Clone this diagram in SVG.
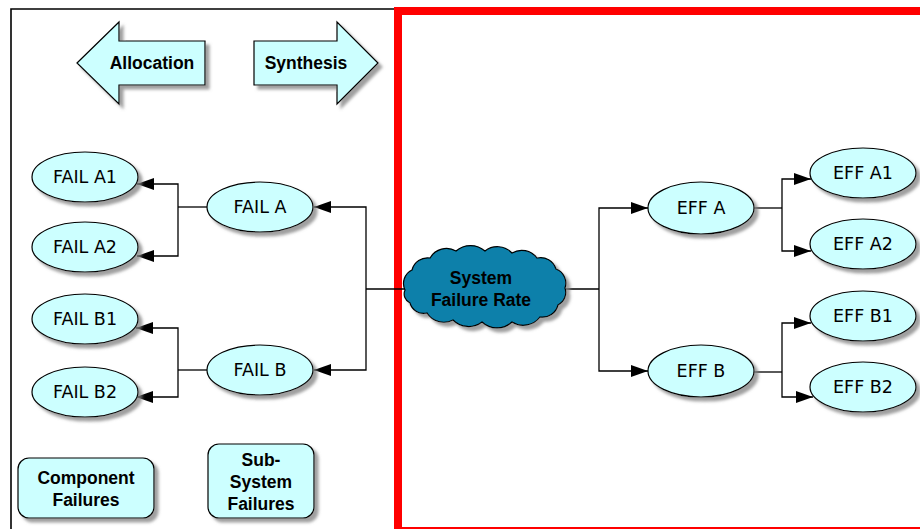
<svg xmlns="http://www.w3.org/2000/svg" width="920" height="529" viewBox="0 0 920 529">
  <style>
    .shape { fill: #CCFFFF; stroke: #000; stroke-width: 1.2; }
    .cloud { fill: #0A80AA; stroke: #000; stroke-width: 1.2; }
    .lbl { font-family: "DejaVu Sans", "Liberation Sans", sans-serif; font-size: 17.5px; fill: #000; text-anchor: middle; }
    .bold { font-family: "Liberation Sans", Arial, sans-serif; font-weight: bold; font-size: 17.5px; fill: #000; text-anchor: middle; }
    .conn { fill: none; stroke: #000; stroke-width: 1.3; }
    .frame { fill: none; stroke: #000; stroke-width: 1.6; }
    .red { fill: none; stroke: #FF0000; stroke-width: 8; }
  </style>
  <defs>
    <filter id="shadow" x="-20%" y="-20%" width="140%" height="150%">
      <feGaussianBlur in="SourceAlpha" stdDeviation="1.6"/>
      <feOffset dx="4" dy="4" result="off"/>
      <feFlood flood-color="#808080" flood-opacity="0.75"/>
      <feComposite in2="off" operator="in"/>
      <feMerge>
        <feMergeNode/>
        <feMergeNode in="SourceGraphic"/>
      </feMerge>
    </filter>
    <marker id="arrow" viewBox="0 0 17 12" refX="17" refY="6" markerWidth="17" markerHeight="12" markerUnits="userSpaceOnUse" orient="auto">
      <path d="M0,0 L17,6 L0,12 z" fill="#000"/>
    </marker>
  </defs>

  <rect width="920" height="529" fill="#fff"/>

  <!-- panel frames -->
  <path class="frame" d="M11,529 V9 H398"/>
  <rect class="red" x="398" y="11" width="600" height="520"/>

  <!-- direction arrows -->
  <g id="allocation">
    <path class="shape" filter="url(#shadow)" d="M77,63 L119,22 V41 H205 V85 H119 V104 Z"/>
    <text class="bold" x="152" y="69">Allocation</text>
  </g>
  <g id="synthesis">
    <path class="shape" filter="url(#shadow)" d="M378,63 L337,22 V41 H254 V85 H337 V104 Z"/>
    <text class="bold" x="306" y="69">Synthesis</text>
  </g>

  <!-- connectors -->
  <g id="connectors">
    <path class="conn" d="M405,289 H366"/>
    <path class="conn" marker-end="url(#arrow)" d="M366,289 V207 H314"/>
    <path class="conn" marker-end="url(#arrow)" d="M366,289 V370 H314"/>
    <path class="conn" d="M207,207 H178"/>
    <path class="conn" marker-end="url(#arrow)" d="M178,207 V184 H137"/>
    <path class="conn" marker-end="url(#arrow)" d="M178,207 V256 H137"/>
    <path class="conn" d="M207,370 H178"/>
    <path class="conn" marker-end="url(#arrow)" d="M178,370 V328 H136"/>
    <path class="conn" marker-end="url(#arrow)" d="M178,370 V397 H136"/>
    <path class="conn" d="M565,289 H599"/>
    <path class="conn" marker-end="url(#arrow)" d="M599,289 V208 H648"/>
    <path class="conn" marker-end="url(#arrow)" d="M599,289 V371 H648"/>
    <path class="conn" stroke-width="2" d="M754,208 H782"/>
    <path class="conn" marker-end="url(#arrow)" d="M782,208 V179 H811"/>
    <path class="conn" marker-end="url(#arrow)" d="M782,208 V251 H811"/>
    <path class="conn" stroke-width="2" d="M754,372 H782"/>
    <path class="conn" marker-end="url(#arrow)" d="M782,372 V323 H811"/>
    <path class="conn" marker-end="url(#arrow)" d="M782,372 V397 H813"/>
  </g>

  <!-- component failures -->
  <g id="fail-a1">
    <ellipse class="shape" filter="url(#shadow)" cx="85" cy="177" rx="53" ry="25"/>
    <text class="lbl" x="85" y="183">FAIL A1</text>
  </g>
  <g id="fail-a2">
    <ellipse class="shape" filter="url(#shadow)" cx="85" cy="247" rx="53" ry="25"/>
    <text class="lbl" x="85" y="253">FAIL A2</text>
  </g>
  <g id="fail-b1">
    <ellipse class="shape" filter="url(#shadow)" cx="85" cy="319" rx="53" ry="25"/>
    <text class="lbl" x="85" y="325">FAIL B1</text>
  </g>
  <g id="fail-b2">
    <ellipse class="shape" filter="url(#shadow)" cx="85" cy="392" rx="53" ry="25"/>
    <text class="lbl" x="85" y="398">FAIL B2</text>
  </g>

  <!-- sub-system failures -->
  <g id="fail-a">
    <ellipse class="shape" filter="url(#shadow)" cx="260" cy="207" rx="53" ry="25"/>
    <text class="lbl" x="260" y="213">FAIL A</text>
  </g>
  <g id="fail-b">
    <ellipse class="shape" filter="url(#shadow)" cx="260" cy="370" rx="53" ry="25"/>
    <text class="lbl" x="260" y="376">FAIL B</text>
  </g>

  <!-- system level -->
  <g id="system">
    <path class="cloud" filter="url(#shadow)" d="M405,290
      A15,15 0 0 1 412,270 A16,16 0 0 1 430,258 A19,19 0 0 1 456,251
      A22,22 0 0 1 485,251 A20,20 0 0 1 512,253 A19,19 0 0 1 537,258
      A16,16 0 0 1 556,269 A15,15 0 0 1 565,288 A14,14 0 0 1 558,305
      A16,16 0 0 1 540,317 A21,21 0 0 1 512,322 A22,22 0 0 1 482,322
      A22,22 0 0 1 453,320 A20,20 0 0 1 427,313 A14,14 0 0 1 410,303
      A10,10 0 0 1 405,290 Z"/>
    <text class="bold" x="481" y="284">System</text>
    <text class="bold" x="481" y="306">Failure Rate</text>
  </g>

  <!-- effects -->
  <g id="eff-a">
    <ellipse class="shape" filter="url(#shadow)" cx="701" cy="208" rx="53" ry="26"/>
    <text class="lbl" x="701" y="214">EFF A</text>
  </g>
  <g id="eff-b">
    <ellipse class="shape" filter="url(#shadow)" cx="701" cy="371" rx="53" ry="26"/>
    <text class="lbl" x="701" y="377">EFF B</text>
  </g>
  <g id="eff-a1">
    <ellipse class="shape" filter="url(#shadow)" cx="863" cy="173" rx="53" ry="25"/>
    <text class="lbl" x="863" y="179">EFF A1</text>
  </g>
  <g id="eff-a2">
    <ellipse class="shape" filter="url(#shadow)" cx="863" cy="244" rx="53" ry="25"/>
    <text class="lbl" x="863" y="250">EFF A2</text>
  </g>
  <g id="eff-b1">
    <ellipse class="shape" filter="url(#shadow)" cx="863" cy="316" rx="53" ry="25"/>
    <text class="lbl" x="863" y="322">EFF B1</text>
  </g>
  <g id="eff-b2">
    <ellipse class="shape" filter="url(#shadow)" cx="863" cy="387" rx="53" ry="25"/>
    <text class="lbl" x="863" y="393">EFF B2</text>
  </g>

  <!-- level captions -->
  <g id="component-failures">
    <rect class="shape" filter="url(#shadow)" x="18" y="458" width="136" height="60" rx="11"/>
    <text class="bold" x="86" y="484">Component</text>
    <text class="bold" x="86" y="506">Failures</text>
  </g>
  <g id="subsystem-failures">
    <rect class="shape" filter="url(#shadow)" x="208" y="444" width="106" height="74" rx="11"/>
    <text class="bold" x="261" y="466">Sub-</text>
    <text class="bold" x="261" y="488">System</text>
    <text class="bold" x="261" y="510">Failures</text>
  </g>
</svg>
